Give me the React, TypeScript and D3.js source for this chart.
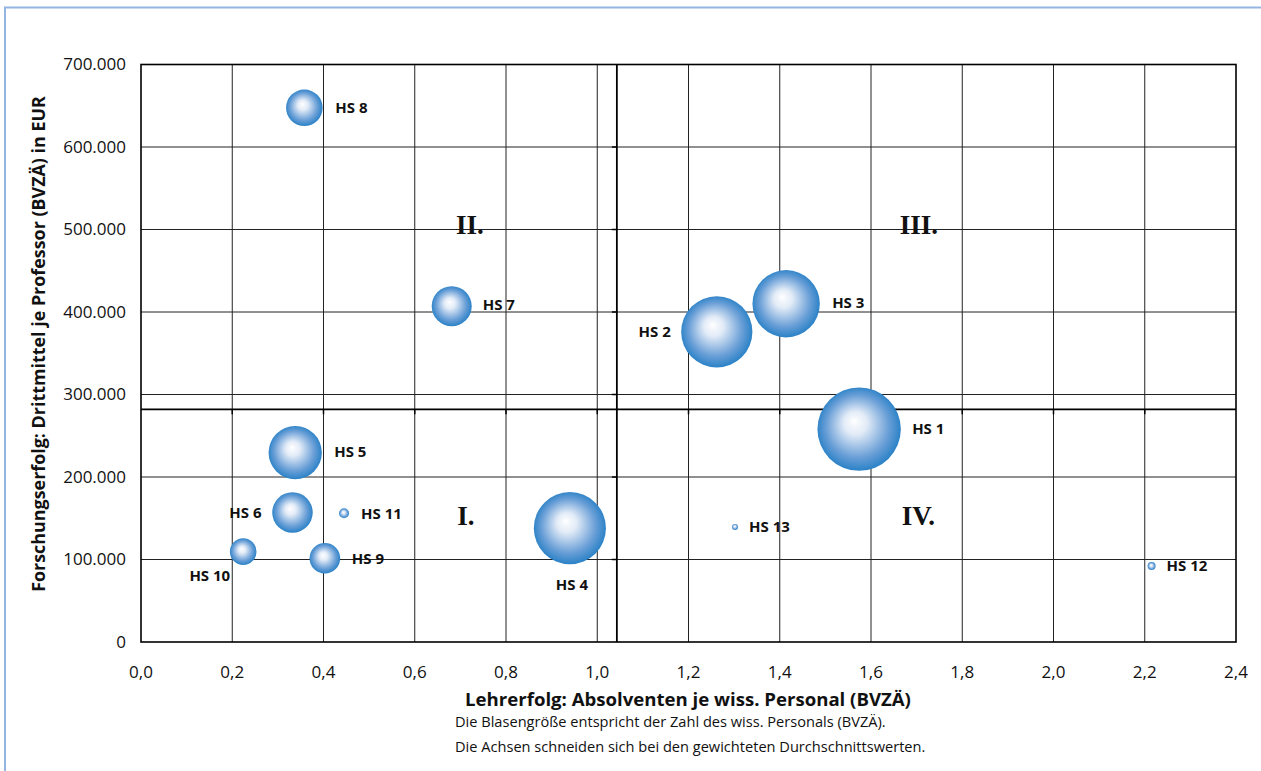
import React from "react";
import * as d3 from "d3";

// Hochschulen: Lehrerfolg (x), Forschungserfolg (y), wiss. Personal (Blasengröße)
const names = ["HS 1", "HS 2", "HS 3", "HS 4", "HS 5", "HS 6", "HS 7", "HS 8", "HS 9", "HS 10", "HS 11", "HS 12", "HS 13"];
const lehrerfolg = [1.574, 1.262, 1.414, 0.94, 0.338, 0.332, 0.681, 0.358, 0.403, 0.224, 0.445, 2.215, 1.302];
const drittmittel = [258000, 376000, 410000, 138000, 229500, 157000, 407000, 647500, 101500, 109500, 156000, 92000, 139500];
const personal = [1740, 1270, 1135, 1300, 710, 410, 400, 335, 235, 177, 25, 16, 9];
// label placement: dx, dy relative to bubble centre, anchor
const labelPos: [number, number, string][] = [
  [53, 0, "start"], [-46, 0, "end"], [46, -1, "start"], [2, 57, "middle"], [39, -1, "start"],
  [-31, 0, "end"], [31, -1, "start"], [31, 0, "start"], [27, 0, "start"], [-13, 24, "end"],
  [17, 0, "start"], [15, 0, "start"], [14, 0, "start"],
];

const xTicks = [0, 0.2, 0.4, 0.6, 0.8, 1.0, 1.2, 1.4, 1.6, 1.8, 2.0, 2.2, 2.4];
const yTicks = [0, 100000, 200000, 300000, 400000, 500000, 600000, 700000];
// gewichtete Durchschnittswerte (Achsenschnittpunkt)
const avgX = 1.043;
const avgY = 282000;
const quadrants = [
  { label: "I.", x: 0.712, y: 142000 },
  { label: "II.", x: 0.721, y: 494000 },
  { label: "III.", x: 1.705, y: 494000 },
  { label: "IV.", x: 1.704, y: 142000 },
];

const W = 1261;
const H = 771;
const plot = { left: 141, right: 1236, top: 64.5, bottom: 642 };

const x = d3.scaleLinear().domain([0, 2.4]).range([plot.left, plot.right]);
const y = d3.scaleLinear().domain([0, 700000]).range([plot.bottom, plot.top]);
const r = d3.scaleSqrt().domain([0, 1740]).range([0, 41.7]);

const fmtX = (v: number) => v.toFixed(1).replace(".", ",");
const fmtY = (v: number) => (v === 0 ? "0" : d3.format(",")(v).replace(/,/g, "."));

const font = "'Open Sans', 'Noto Sans', sans-serif";

export default function App() {
  return (
    <svg width={W} height={H} style={{ position: "absolute", left: 0, top: 0, background: "#fff" }}>
      <defs>
        <radialGradient id="bubble" cx="0.5" cy="0.5" fx="0.44" fy="0.4" r="0.55">
          <stop offset="0" stopColor="#ffffff" />
          <stop offset="0.25" stopColor="#e2ebf7" />
          <stop offset="0.68" stopColor="#6a9fd7" />
          <stop offset="0.92" stopColor="#2b82c7" />
          <stop offset="1" stopColor="#2680c6" />
        </radialGradient>
      </defs>
      <rect x={5} y={7.5} width={W + 10} height={H + 10} fill="none" stroke="#93b5e1" strokeWidth={2} />

      {/* grid */}
      <g>
        {xTicks.slice(1, -1).map((t) => (
          <line key={"gx" + t} x1={x(t)} x2={x(t)} y1={plot.top} y2={plot.bottom} stroke="#222" strokeWidth={1} />
        ))}
        {yTicks.slice(1, -1).map((t) => (
          <line key={"gy" + t} x1={plot.left} x2={plot.right} y1={y(t)} y2={y(t)} stroke="#222" strokeWidth={1} />
        ))}
        <rect x={plot.left} y={plot.top} width={plot.right - plot.left} height={plot.bottom - plot.top} fill="none" stroke="#000" strokeWidth={1.6} />
      </g>

      {/* Achsenkreuz bei den Durchschnittswerten */}
      <g stroke="#000">
        <line x1={plot.left} x2={plot.right} y1={y(avgY)} y2={y(avgY)} strokeWidth={1.8} />
        <line x1={x(avgX)} x2={x(avgX)} y1={plot.top} y2={plot.bottom} strokeWidth={1.8} />
        {xTicks.slice(1, -1).map((t) => (
          <line key={"tx" + t} x1={x(t)} x2={x(t)} y1={y(avgY)} y2={y(avgY) + 5} strokeWidth={1.5} />
        ))}
        {yTicks.slice(1, -1).map((t) => (
          <line key={"ty" + t} x1={x(avgX) - 5} x2={x(avgX)} y1={y(t)} y2={y(t)} strokeWidth={1.5} />
        ))}
      </g>

      {/* axis labels */}
      <g fontFamily={font} fontSize={17} fill="#111">
        {yTicks.map((t) => (
          <text key={"yl" + t} x={plot.left - 15} y={y(t)} dy="0.35em" textAnchor="end">
            {fmtY(t)}
          </text>
        ))}
        {xTicks.map((t) => (
          <text key={"xl" + t} x={x(t)} y={plot.bottom + 36} textAnchor="middle">
            {fmtX(t)}
          </text>
        ))}
      </g>

      {/* quadrant labels */}
      <g fontFamily="'Liberation Serif', 'DejaVu Serif', serif" fontWeight="bold" fontSize={27} fill="#111" textAnchor="middle">
        {quadrants.map((q) => (
          <text key={q.label} x={x(q.x)} y={y(q.y)}>
            {q.label}
          </text>
        ))}
      </g>

      {/* bubbles */}
      <g>
        {names.map((n, i) => (
          <circle key={n} cx={x(lehrerfolg[i])} cy={y(drittmittel[i])} r={r(personal[i])} fill="url(#bubble)" />
        ))}
      </g>
      <g fontFamily={font} fontWeight="bold" fontSize={15} fill="#111">
        {names.map((n, i) => (
          <text
            key={"l" + n}
            x={x(lehrerfolg[i]) + labelPos[i][0]}
            y={y(drittmittel[i]) + labelPos[i][1]}
            dy="0.35em"
            textAnchor={labelPos[i][2] as any}
          >
            {n}
          </text>
        ))}
      </g>

      {/* titles */}
      <text
        transform={`translate(45,344) rotate(-90)`}
        textAnchor="middle"
        fontFamily={font}
        fontWeight="bold"
        fontSize={17.9}
        fill="#111"
      >
        Forschungserfolg: Drittmittel je Professor (BVZÄ) in EUR
      </text>
      <text x={688} y={706} textAnchor="middle" fontFamily={font} fontWeight="bold" fontSize={18.6} fill="#111">
        Lehrerfolg: Absolventen je wiss. Personal (BVZÄ)
      </text>
      <g fontFamily={font} fontSize={14.6} fill="#111">
        <text x={455} y={727}>Die Blasengröße entspricht der Zahl des wiss. Personals (BVZÄ).</text>
        <text x={455} y={752}>Die Achsen schneiden sich bei den gewichteten Durchschnittswerten.</text>
      </g>
    </svg>
  );
}
